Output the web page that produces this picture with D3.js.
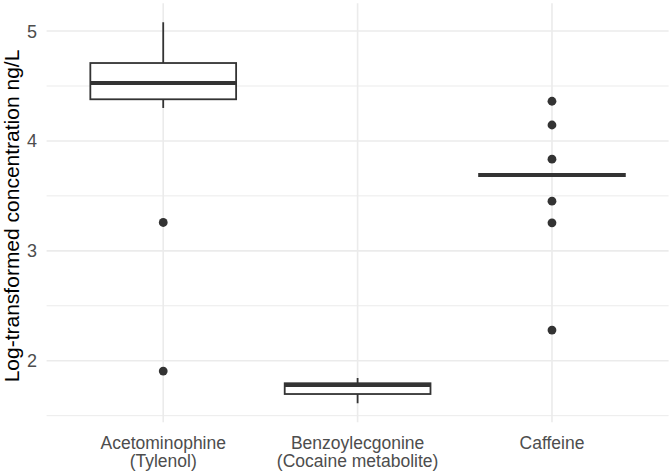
<!DOCTYPE html>
<html>
<head>
<meta charset="utf-8">
<script src="https://cdn.jsdelivr.net/npm/d3@7"></script>
<style>
  body { margin: 0; background: #fff; }
  svg { display: block; font-family: "Liberation Sans", Arial, sans-serif; }
</style>
</head>
<body>
<svg id="chart" width="671" height="471"></svg>
<script>
// Box statistics (log ng/L)
var categories = ["Acetominophine\n(Tylenol)", "Benzoylecgonine\n(Cocaine metabolite)", "Caffeine"];
var whiskerLo = [4.30, 1.613, 3.68];
var q1        = [4.379, 1.697, 3.68];
var medians   = [4.527, 1.779, 3.69];
var q3        = [4.709, 1.795, 3.70];
var whiskerHi = [5.08, 1.843, 3.70];
var outliers  = [
    [3.258, 1.906],
    [],
    [4.361, 4.145, 3.834, 3.452, 3.255, 2.279]
];
var yTicks = [2, 3, 4, 5];
var yMinor = [1.5, 2.5, 3.5, 4.5];

var boxes = categories.map(function(c, i) {
    return {cat: c, lo: whiskerLo[i], q1: q1[i], med: medians[i], q3: q3[i], hi: whiskerHi[i], out: outliers[i]};
});

// Drawing area
var margin = {top: 3.2, right: 2.4, bottom: 48.7, left: 46.6},
    width = 671 - margin.left - margin.right,
    height = 471 - margin.top - margin.bottom;

var svg = d3.select("#chart");
var g = svg.append("g")
    .attr("transform", "translate(" + margin.left + "," + margin.top + ")");

// ggplot-like 5% expansion of the data range
var allVals = d3.merge([whiskerLo, whiskerHi, d3.merge(outliers)]);
var lo = d3.min(allVals), hi = d3.max(allVals), pad = (hi - lo) * 0.05;

var y = d3.scaleLinear()
    .domain([lo - pad, hi + pad])
    .range([height, 0]);

var x = d3.scalePoint()
    .domain(categories)
    .range([0, width])
    .padding(0.6);

var boxWidth = x.step() * 0.75;

// Grid
g.selectAll(".minor")
    .data(yMinor)
    .enter().append("line")
    .attr("x1", 0).attr("x2", width)
    .attr("y1", function(d) { return y(d); })
    .attr("y2", function(d) { return y(d); })
    .attr("stroke", "#ebebeb").attr("stroke-width", 1);

g.selectAll(".major")
    .data(yTicks)
    .enter().append("line")
    .attr("x1", 0).attr("x2", width)
    .attr("y1", function(d) { return y(d); })
    .attr("y2", function(d) { return y(d); })
    .attr("stroke", "#ebebeb").attr("stroke-width", 1.6);

g.selectAll(".vgrid")
    .data(categories)
    .enter().append("line")
    .attr("x1", function(d) { return x(d); })
    .attr("x2", function(d) { return x(d); })
    .attr("y1", 0).attr("y2", height)
    .attr("stroke", "#ebebeb").attr("stroke-width", 1.6);

// Boxes
var box = g.selectAll(".box")
    .data(boxes)
    .enter().append("g")
    .attr("class", "box");

box.append("line")
    .attr("x1", function(d) { return x(d.cat); })
    .attr("x2", function(d) { return x(d.cat); })
    .attr("y1", function(d) { return y(d.hi); })
    .attr("y2", function(d) { return y(d.q3); })
    .attr("stroke", "#333333").attr("stroke-width", 1.8);

box.append("line")
    .attr("x1", function(d) { return x(d.cat); })
    .attr("x2", function(d) { return x(d.cat); })
    .attr("y1", function(d) { return y(d.q1); })
    .attr("y2", function(d) { return y(d.lo); })
    .attr("stroke", "#333333").attr("stroke-width", 1.8);

box.append("rect")
    .attr("x", function(d) { return x(d.cat) - boxWidth / 2; })
    .attr("width", boxWidth)
    .attr("y", function(d) { return y(d.q3); })
    .attr("height", function(d) { return y(d.q1) - y(d.q3); })
    .attr("fill", "#ffffff")
    .attr("stroke", "#333333").attr("stroke-width", 1.8);

box.append("line")
    .attr("x1", function(d) { return x(d.cat) - boxWidth / 2; })
    .attr("x2", function(d) { return x(d.cat) + boxWidth / 2; })
    .attr("y1", function(d) { return y(d.med); })
    .attr("y2", function(d) { return y(d.med); })
    .attr("stroke", "#333333").attr("stroke-width", 4);

box.selectAll(".out")
    .data(function(d) { return d.out.map(function(v) { return {cat: d.cat, v: v}; }); })
    .enter().append("circle")
    .attr("cx", function(d) { return x(d.cat); })
    .attr("cy", function(d) { return y(d.v); })
    .attr("r", 4.4)
    .attr("fill", "#333333");

// Axes text
g.selectAll(".ytick")
    .data(yTicks)
    .enter().append("text")
    .attr("x", -9.5)
    .attr("y", function(d) { return y(d); })
    .attr("dy", "0.36em")
    .attr("text-anchor", "end")
    .attr("fill", "#4d4d4d")
    .style("font-size", "18px")
    .text(function(d) { return d; });

var xl = g.selectAll(".xtick")
    .data(categories)
    .enter().append("text")
    .attr("text-anchor", "middle")
    .attr("fill", "#4d4d4d")
    .style("font-size", "17.5px");

xl.selectAll("tspan")
    .data(function(d) { return d.split("\n").map(function(t) { return {cat: d, t: t}; }); })
    .enter().append("tspan")
    .attr("x", function(d) { return x(d.cat); })
    .attr("y", function(d, i) { return height + 26.7 + i * 18; })
    .text(function(d) { return d.t; });

svg.append("text")
    .attr("transform", "translate(19,216) rotate(-90)")
    .attr("text-anchor", "middle")
    .attr("fill", "#000000")
    .style("font-size", "21px")
    .text("Log-transformed concentration ng/L");
</script>
</body>
</html>
